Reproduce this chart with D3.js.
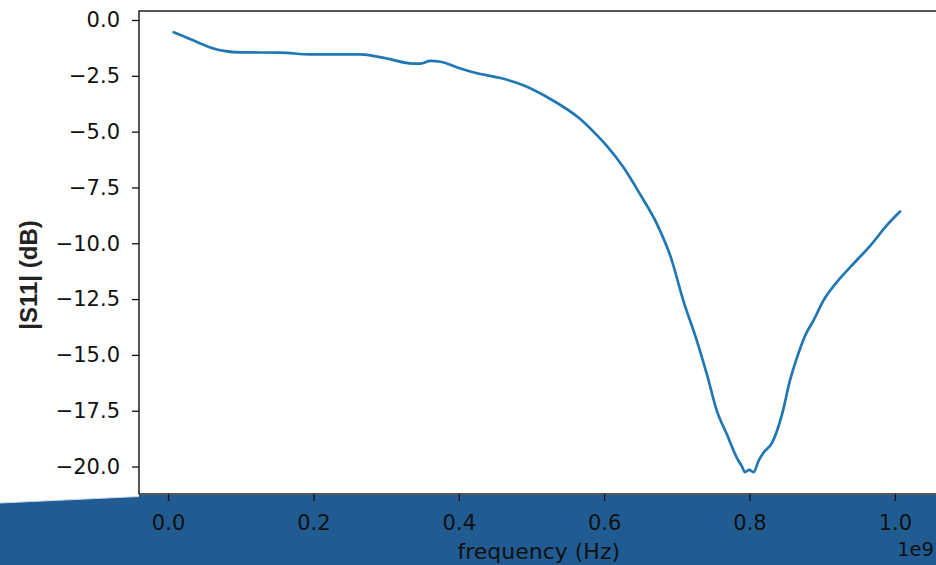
<!DOCTYPE html>
<html>
<head>
<meta charset="utf-8">
<script src="https://cdn.jsdelivr.net/npm/d3@7"></script>
<style>
  body { margin: 0; background: #fff; }
  svg { display: block; }
  .tick text { font-family: "DejaVu Sans", sans-serif; font-size: 21px; fill: #111; }
  .tick line { stroke: #111; stroke-width: 1.3; }
  .domain { display: none; }
</style>
</head>
<body>
<script>
// frequency in units of 1e9 Hz, |S11| in dB
var freq = [0.0077, 0.0236, 0.0443, 0.0649, 0.0767, 0.0993, 0.1544, 0.1957, 0.2646, 0.2970,
    0.3373, 0.3472, 0.3609, 0.3747, 0.4023, 0.4298, 0.4573, 0.4888, 0.5213, 0.5675,
    0.5852, 0.6039, 0.6265, 0.6491, 0.6727, 0.6914, 0.7091, 0.7278, 0.7416, 0.7553,
    0.7691, 0.7829, 0.7897, 0.7937, 0.7996, 0.8055, 0.8124, 0.8192, 0.8311, 0.8448,
    0.8556, 0.8655, 0.8763, 0.8881, 0.9019, 0.9186, 0.9392, 0.9668, 0.9894, 1.0071];
var s11 = [-0.55, -0.76, -1.05, -1.30, -1.38, -1.45, -1.46, -1.54, -1.54, -1.70,
    -1.95, -1.95, -1.83, -1.87, -2.17, -2.42, -2.60, -2.92, -3.45, -4.45,
    -5.00, -5.65, -6.60, -7.79, -9.14, -10.60, -12.59, -14.39, -15.90, -17.53,
    -18.58, -19.63, -20.00, -20.25, -20.15, -20.25, -19.75, -19.38, -18.93, -17.65,
    -16.15, -15.10, -14.15, -13.45, -12.55, -11.80, -11.05, -10.08, -9.18, -8.58];
var xTicks = [0.0, 0.2, 0.4, 0.6, 0.8, 1.0];
var yTicks = [0.0, -2.5, -5.0, -7.5, -10.0, -12.5, -15.0, -17.5, -20.0];

var W = 936, H = 565;
var plot = { left: 139, right: 938.5, top: 11, bottom: 494 };

var dataset = freq.map(function (f, i) { return { x: f, y: s11[i] }; });

var xScale = d3.scaleLinear()
    .domain([-0.04, 1.06])
    .range([plot.left, plot.right]);

var yScale = d3.scaleLinear()
    .domain([0.403, -21.23])
    .range([plot.top, plot.bottom]);

var svg = d3.select("body").append("svg")
    .attr("width", W)
    .attr("height", H);

// blue band across the bottom (screenshot backdrop)
svg.append("path")
    .attr("d", "M0,503 L139,496.5 L139,495 L" + W + ",495 L" + W + "," + H + " L0," + H + " Z")
    .attr("fill", "#205b92");
svg.append("path")
    .attr("d", "M0,503 L139,496.5")
    .attr("stroke", "#c9d9e8")
    .attr("stroke-width", 1.2)
    .attr("fill", "none");

// frame
svg.append("rect")
    .attr("x", plot.left)
    .attr("y", plot.top)
    .attr("width", plot.right - plot.left)
    .attr("height", plot.bottom - plot.top)
    .attr("fill", "none")
    .attr("stroke", "#111")
    .attr("stroke-width", 1.4);

// x axis
svg.append("g")
    .attr("class", "x axis")
    .attr("transform", "translate(0," + plot.bottom + ")")
    .call(d3.axisBottom(xScale).tickValues(xTicks).tickFormat(d3.format(".1f"))
        .tickSize(7).tickPadding(14));

// y axis
svg.append("g")
    .attr("class", "y axis")
    .attr("transform", "translate(" + plot.left + ",0)")
    .call(d3.axisLeft(yScale).tickValues(yTicks).tickFormat(d3.format(".1f"))
        .tickSize(7).tickPadding(12));

// labels
svg.append("text")
    .attr("x", (plot.left + plot.right) / 2)
    .attr("y", 559)
    .attr("text-anchor", "middle")
    .style("font-family", "DejaVu Sans, sans-serif")
    .style("font-size", "22px")
    .style("fill", "#111")
    .text("frequency (Hz)");

svg.append("text")
    .attr("x", 934)
    .attr("y", 556)
    .attr("text-anchor", "end")
    .style("font-family", "DejaVu Sans, sans-serif")
    .style("font-size", "19.5px")
    .style("fill", "#111")
    .text("1e9");

svg.append("text")
    .attr("transform", "translate(37,275) rotate(-90)")
    .attr("text-anchor", "middle")
    .style("font-family", "Liberation Sans, Arial, sans-serif")
    .style("font-weight", "bold")
    .style("font-size", "24px")
    .style("fill", "#222")
    .text("|S11| (dB)");

// the curve
var line = d3.line()
    .x(function (d) { return xScale(d.x); })
    .y(function (d) { return yScale(d.y); })
    .curve(d3.curveMonotoneX);

svg.append("path")
    .datum(dataset)
    .attr("fill", "none")
    .attr("stroke", "#1f77b4")
    .attr("stroke-width", 2.7)
    .attr("stroke-linejoin", "round")
    .attr("stroke-linecap", "round")
    .attr("d", line);
</script>
</body>
</html>
